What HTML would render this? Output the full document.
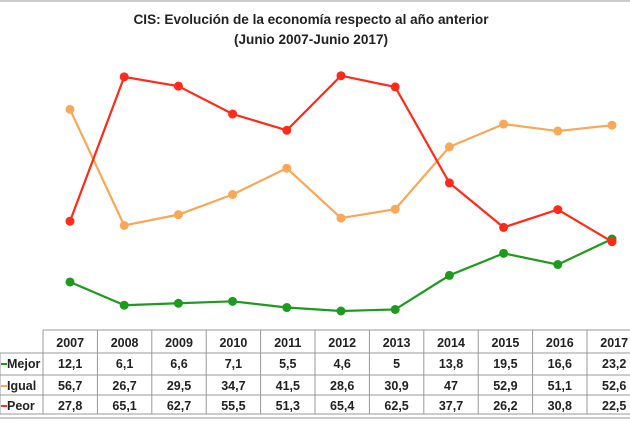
<!DOCTYPE html>
<html><head><meta charset="utf-8"><style>
body{margin:0;background:#fff;width:630px;height:420px;overflow:hidden;font-family:"Liberation Sans",sans-serif}
</style></head><body>
<svg width="630" height="420" xmlns="http://www.w3.org/2000/svg" font-family="Liberation Sans, sans-serif">
<rect x="0" y="0" width="630" height="2" fill="#ccc"/>
<text x="311" y="24" text-anchor="middle" font-size="13.6" font-weight="bold" fill="#222" textLength="355">CIS: Evolución de la economía respecto al año anterior</text>
<text x="311" y="44" text-anchor="middle" font-size="13.6" font-weight="bold" fill="#222">(Junio 2007-Junio 2017)</text>
<g id="lines"></g>
<g id="tbl"></g>
</svg>
<script>
const M=[12.1,6.1,6.6,7.1,5.5,4.6,5,13.8,19.5,16.6,23.2],I=[56.7,26.7,29.5,34.7,41.5,28.6,30.9,47,52.9,51.1,52.6],P=[27.8,65.1,62.7,55.5,51.3,65.4,62.5,37.7,26.2,30.8,22.5];
const X=i=>70+54.2*i,Y=v=>328.8-3.87*v;
let s='';
[[I,'#f9a857'],[M,'#1e9a1e'],[P,'#ff2a1a']].forEach(([d,c])=>{
s+=`<polyline fill="none" stroke="${c}" stroke-width="2.2" points="${d.map((v,i)=>X(i)+','+Y(v)).join(' ')}"/>`;
d.forEach((v,i)=>s+=`<circle cx="${X(i)}" cy="${Y(v)}" r="4.5" fill="${c}"/>`);});
document.getElementById('lines').innerHTML=s;
let t='';const yrs=[2007,2008,2009,2010,2011,2012,2013,2014,2015,2016,2017];
const L=43,W=54.4,rows=[330,353,375,395,414];
t+=`<g stroke="#999" stroke-width="1">`;
t+=`<line x1="${L}" y1="330" x2="630" y2="330"/>`;
for(let r=1;r<5;r++)t+=`<line x1="0" y1="${rows[r]}" x2="630" y2="${rows[r]}"/>`;
t+=`<line x1="0" y1="418" x2="630" y2="418"/>`;
for(let c=0;c<=11;c++){let x=L+W*c;t+=`<line x1="${x}" y1="330" x2="${x}" y2="414"/>`;}
t+=`<line x1="0" y1="353" x2="0" y2="414"/></g>`;
yrs.forEach((y,i)=>t+=`<text x="${L+W*i+W/2}" y="347" text-anchor="middle" font-size="12.5" font-weight="bold" fill="#222">${y}</text>`);
const data=[[M,'Mejor','#1e9a1e'],[I,'Igual','#f9a857'],[P,'Peor','#ff2a1a']];
data.forEach(([d,n,c],r)=>{const yy=rows[r+1]+15;
t+=`<line x1="1" y1="${yy-4}" x2="7" y2="${yy-4}" stroke="${c}" stroke-width="2"/>`;
t+=`<text x="7" y="${yy}" font-size="12.5" font-weight="bold" fill="#222">${n}</text>`;
d.forEach((v,i)=>t+=`<text x="${L+W*i+W/2}" y="${yy}" text-anchor="middle" font-size="12.5" font-weight="bold" fill="#222">${String(v).replace('.',',')}</text>`);});
document.getElementById('tbl').innerHTML=t;
</script>
</body></html>
